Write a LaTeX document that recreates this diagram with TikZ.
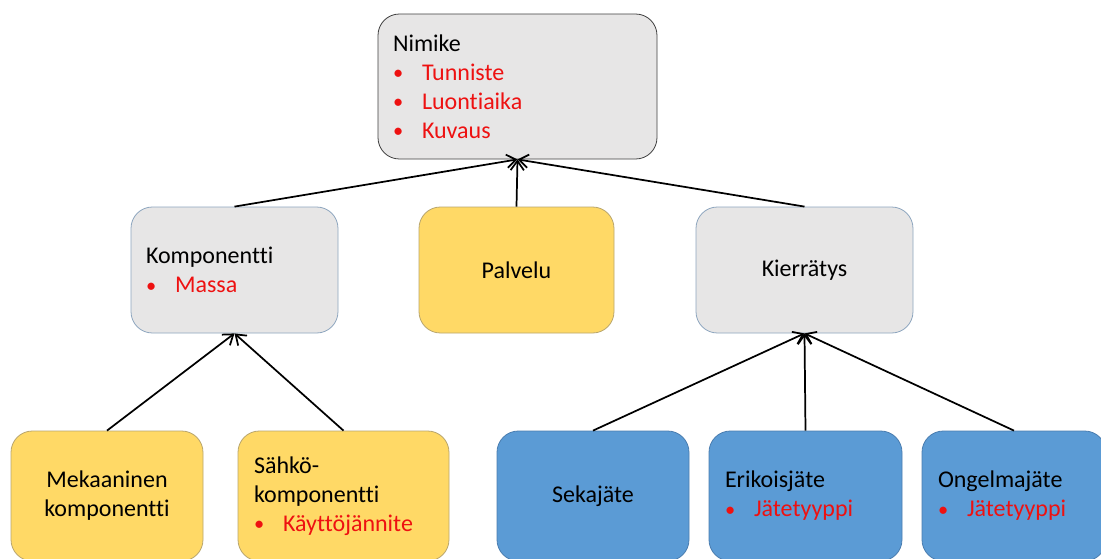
\documentclass[tikz,border=0pt]{standalone}
\usepackage{fontspec}
\setmainfont{Carlito}[Ligatures={NoCommon,NoContextual}]
\usetikzlibrary{arrows.meta}

\definecolor{panelgray}{HTML}{E7E6E6}
\definecolor{darkedge}{HTML}{404040}
\definecolor{grayedge}{HTML}{8EA6BF}
\definecolor{goldfill}{HTML}{FFD966}
\definecolor{goldedge}{HTML}{B9A66E}
\definecolor{bluefill}{HTML}{5B9BD5}
\definecolor{blueedge}{HTML}{4A7DB0}
\definecolor{itemred}{HTML}{EE1111}

% red bullet line
\newcommand\redbullet[1]{\makebox[21.75pt][l]{\textcolor{itemred}{\raisebox{0.5pt}{\scalebox{0.85}{•}}}}\textcolor{itemred}{#1}}

\tikzset{
  card/.style={rounded corners=16pt, line width=0.6pt,
    font=\fontsize{18pt}{21.75pt}\selectfont, inner ysep=0pt},
  graycard/.style={card, draw=grayedge, fill=panelgray},
  goldcard/.style={card, draw=goldedge, fill=goldfill},
  bluecard/.style={card, draw=blueedge, fill=bluefill},
  link/.style={line width=1.3pt, -{Straight Barb[length=7pt,width=10pt]}}
}

\begin{document}
\begin{tikzpicture}[x=0.75pt,y=-0.75pt]
  \clip (0,0) rectangle (1101,558);
  \fill[white] (0,0) rectangle (1101,558);

  % top level
  \node[graycard, draw=darkedge, minimum height=108.75pt,
        text width=186.75pt, inner xsep=11.25pt, align=left]
    (nim) at (517.5,86.5)
    {Nimike\\ \redbullet{Tunniste}\\ \redbullet{Luontiaika}\\ \redbullet{Kuvaus}};

  % middle level
  \node[graycard, minimum height=94.5pt, text width=132.75pt,
        inner xsep=11.25pt, align=left]
    (komp) at (234.5,270) {Komponentti\\ \redbullet{Massa}};
  \node[goldcard, minimum height=94.5pt, minimum width=146.25pt, align=center]
    (pal) at (516.5,270) {Palvelu};
  \node[graycard, minimum height=94.5pt, minimum width=162.75pt, align=center]
    (kie) at (804.5,270) {Kierrätys};

  % bottom level
  \node[goldcard, minimum height=97.5pt, minimum width=144pt, align=center]
    (mek) at (107,496) {Mekaaninen\\komponentti};
  \node[goldcard, minimum height=97.5pt, text width=134.25pt,
        inner xsep=12pt, align=left]
    (sah) at (343.5,496) {Sähkö-\\komponentti\\ \redbullet{Käyttöjännite}};
  \node[bluecard, minimum height=97.5pt, minimum width=144pt, align=center]
    (sek) at (593,496) {Sekajäte};
  \node[bluecard, minimum height=97.5pt, text width=120.75pt,
        inner xsep=12pt, align=left]
    (eri) at (805.5,496) {Erikoisjäte\\ \redbullet{Jätetyyppi}};
  \node[bluecard, minimum height=97.5pt, text width=114pt,
        inner xsep=12pt, align=left]
    (ong) at (1014,496) {Ongelmajäte\\ \redbullet{Jätetyyppi}};

  % connectors
  \draw[link] (komp.north) -- (nim.south);
  \draw[link] (pal.north) -- (nim.south);
  \draw[link] (kie.north) -- (nim.south);
  \draw[link] (mek.north) -- (komp.south);
  \draw[link] (sah.north) -- (komp.south);
  \draw[link] (sek.north) -- (kie.south);
  \draw[link] (eri.north) -- (kie.south);
  \draw[link] (ong.north) -- (kie.south);
\end{tikzpicture}
\end{document}
